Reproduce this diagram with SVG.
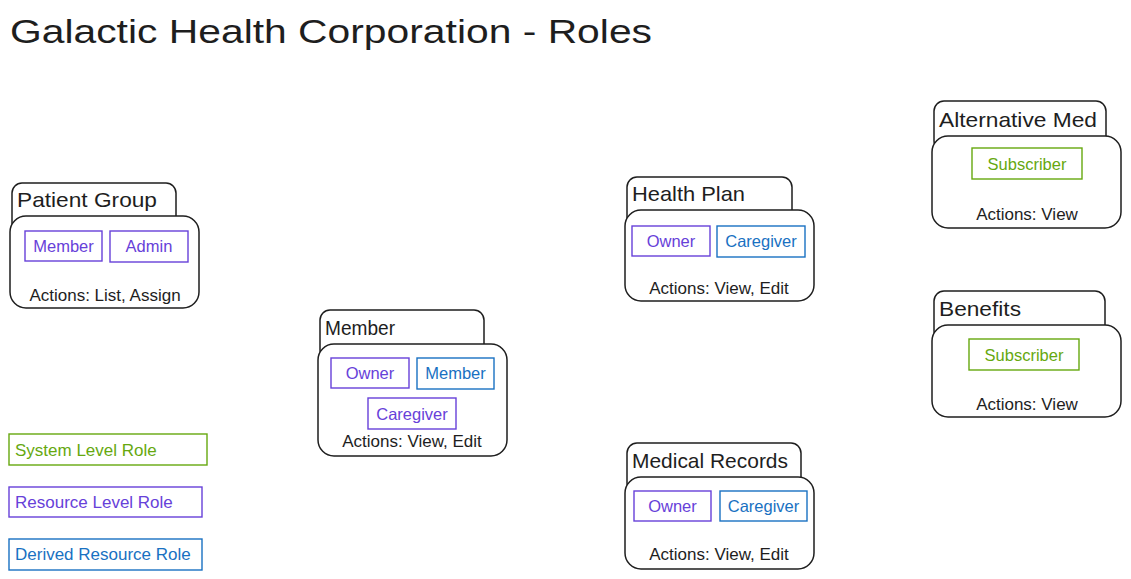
<svg xmlns="http://www.w3.org/2000/svg" width="1131" height="579" viewBox="0 0 1131 579">
<style>
text{font-family:"Liberation Sans",Arial,sans-serif}
.title{font-size:34px;fill:#1e1e1e}
.tab,.body{fill:#fff;stroke:#1e1e1e;stroke-width:1.5}
.ntitle{font-size:21px;fill:#1e1e1e}
.act{font-size:17px;fill:#1e1e1e;text-anchor:middle}
.role{fill:#fff;stroke-width:1.4}
.rl{font-size:16.5px;text-anchor:middle}
.g{stroke:#66a80f}.gt{fill:#66a80f}
.p{stroke:#6741d9}.pt{fill:#6741d9}
.b{stroke:#1971c2}.bt{fill:#1971c2}
.leg{font-size:17px}
</style>
<rect width="1131" height="579" fill="#fff"/>
<text class="title" x="10" y="43" textLength="642" lengthAdjust="spacingAndGlyphs">Galactic Health Corporation - Roles</text>

<g id="patient-group">
<rect class="tab" x="12" y="183" width="164" height="50" rx="10"/>
<text class="ntitle" x="17" y="207" textLength="140" lengthAdjust="spacingAndGlyphs">Patient Group</text>
<rect class="body" x="10" y="216" width="189" height="92" rx="16"/>
<rect class="role p" x="25" y="231" width="77" height="30"/>
<text class="rl pt" x="63.5" y="252">Member</text>
<rect class="role p" x="110" y="231" width="78" height="31"/>
<text class="rl pt" x="149" y="252">Admin</text>
<text class="act" x="105" y="301">Actions: List, Assign</text>
</g>

<g id="member">
<rect class="tab" x="320" y="310" width="164" height="50" rx="10"/>
<text class="ntitle" x="325" y="335" textLength="70" lengthAdjust="spacingAndGlyphs">Member</text>
<rect class="body" x="318" y="344" width="189" height="112" rx="16"/>
<rect class="role p" x="331" y="358" width="78" height="30"/>
<text class="rl pt" x="370" y="379">Owner</text>
<rect class="role b" x="417" y="358" width="77" height="31"/>
<text class="rl bt" x="455.5" y="379">Member</text>
<rect class="role p" x="368" y="398" width="88" height="31"/>
<text class="rl pt" x="412" y="420">Caregiver</text>
<text class="act" x="412" y="447">Actions: View, Edit</text>
</g>

<g id="health-plan">
<rect class="tab" x="627" y="177" width="165" height="50" rx="10"/>
<text class="ntitle" x="632" y="201" textLength="113" lengthAdjust="spacingAndGlyphs">Health Plan</text>
<rect class="body" x="625" y="210" width="189" height="91" rx="16"/>
<rect class="role p" x="632" y="226" width="78" height="30"/>
<text class="rl pt" x="671" y="247">Owner</text>
<rect class="role b" x="717" y="226" width="88" height="31"/>
<text class="rl bt" x="761" y="247">Caregiver</text>
<text class="act" x="719" y="294">Actions: View, Edit</text>
</g>

<g id="medical-records">
<rect class="tab" x="627" y="443" width="174" height="50" rx="10"/>
<text class="ntitle" x="632" y="468" textLength="156" lengthAdjust="spacingAndGlyphs">Medical Records</text>
<rect class="body" x="625" y="477" width="189" height="92" rx="16"/>
<rect class="role p" x="634" y="491" width="77" height="30"/>
<text class="rl pt" x="672.5" y="512">Owner</text>
<rect class="role b" x="720" y="491" width="87" height="30"/>
<text class="rl bt" x="763.5" y="512">Caregiver</text>
<text class="act" x="719" y="560">Actions: View, Edit</text>
</g>

<g id="alternative-med">
<rect class="tab" x="934" y="101" width="172" height="50" rx="10"/>
<text class="ntitle" x="939" y="127" textLength="158" lengthAdjust="spacingAndGlyphs">Alternative Med</text>
<rect class="body" x="932" y="136" width="189" height="92" rx="16"/>
<rect class="role g" x="972" y="148" width="110" height="31"/>
<text class="rl gt" x="1027" y="170">Subscriber</text>
<text class="act" x="1027" y="220">Actions: View</text>
</g>

<g id="benefits">
<rect class="tab" x="934" y="291" width="171" height="50" rx="10"/>
<text class="ntitle" x="939" y="316" textLength="82" lengthAdjust="spacingAndGlyphs">Benefits</text>
<rect class="body" x="932" y="325" width="189" height="92" rx="16"/>
<rect class="role g" x="969" y="339" width="110" height="31"/>
<text class="rl gt" x="1024" y="361">Subscriber</text>
<text class="act" x="1027" y="410">Actions: View</text>
</g>

<g id="legend">
<rect class="role g" x="9" y="434" width="198" height="31"/>
<text class="leg gt" x="15" y="456">System Level Role</text>
<rect class="role p" x="9" y="487" width="193" height="30"/>
<text class="leg pt" x="15" y="508">Resource Level Role</text>
<rect class="role b" x="9" y="539" width="193" height="31"/>
<text class="leg bt" x="15" y="560">Derived Resource Role</text>
</g>

<g id="connectors"></g>
</svg>
